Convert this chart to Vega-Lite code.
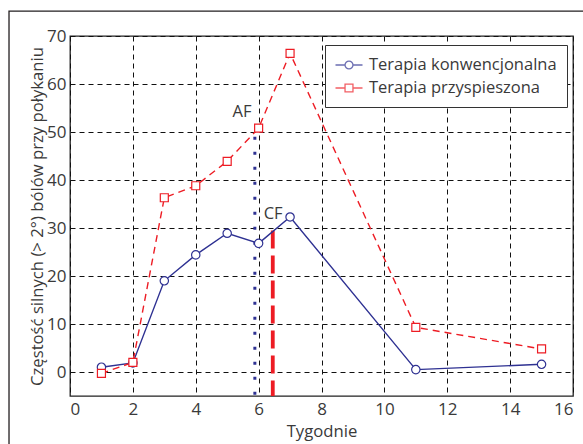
{
  "$schema": "https://vega.github.io/schema/vega-lite/v6.json",
  "autosize": "none",
  "width": 503,
  "height": 360,
  "padding": {"left": 70, "top": 36, "right": 10, "bottom": 48},
  "background": "white",
  "config": {
    "font": "Open Sans",
    "view": {"stroke": "#222222", "strokeWidth": 1.3},
    "axis": {
      "domain": false,
      "ticks": false,
      "grid": true,
      "gridColor": "#111111",
      "gridDash": [5, 4],
      "gridWidth": 1,
      "gridOpacity": 1,
      "labelFont": "Open Sans",
      "labelFontSize": 17,
      "labelColor": "#3a3a3a",
      "titleFont": "Open Sans",
      "titleFontSize": 16.7,
      "titleFontWeight": "normal",
      "titleColor": "#3a3a3a"
    }
  },
  "datasets": {
    "pts": [
      {"week": 1, "value": 1.0, "series": "Terapia konwencjonalna"},
      {"week": 2, "value": 1.9, "series": "Terapia konwencjonalna"},
      {"week": 3, "value": 19.0, "series": "Terapia konwencjonalna"},
      {"week": 4, "value": 24.4, "series": "Terapia konwencjonalna"},
      {"week": 5, "value": 28.9, "series": "Terapia konwencjonalna"},
      {"week": 6, "value": 26.8, "series": "Terapia konwencjonalna"},
      {"week": 7, "value": 32.3, "series": "Terapia konwencjonalna"},
      {"week": 11, "value": 0.5, "series": "Terapia konwencjonalna"},
      {"week": 15, "value": 1.6, "series": "Terapia konwencjonalna"},
      {"week": 1, "value": -0.3, "series": "Terapia przyspieszona"},
      {"week": 2, "value": 2.0, "series": "Terapia przyspieszona"},
      {"week": 3, "value": 36.3, "series": "Terapia przyspieszona"},
      {"week": 4, "value": 38.8, "series": "Terapia przyspieszona"},
      {"week": 5, "value": 43.9, "series": "Terapia przyspieszona"},
      {"week": 6, "value": 50.8, "series": "Terapia przyspieszona"},
      {"week": 7, "value": 66.4, "series": "Terapia przyspieszona"},
      {"week": 11, "value": 9.3, "series": "Terapia przyspieszona"},
      {"week": 15, "value": 4.8, "series": "Terapia przyspieszona"}
    ],
    "marks": [
      {"name": "AF", "week": 5.88, "top": 49, "bottom": -5, "lx": 5.47, "ly": 54.1},
      {"name": "CF", "week": 6.45, "top": 29.5, "bottom": -5, "lx": 6.46, "ly": 33.0}
    ]
  },
  "layer": [
    {
      "data": {"values": [{}]},
      "mark": {"type": "rect", "fill": null, "fillOpacity": 0, "stroke": "#231f20", "strokeWidth": 1.3, "clip": false},
      "encoding": {
        "x": {"datum": -1.94, "type": "quantitative", "scale": {"domain": [0, 16], "nice": false, "zero": false},
              "axis": {"values": [0,1,2,3,4,5,6,7,8,9,10,11,12,13,14,15,16], "labelExpr": "datum.value % 2 == 0 ? datum.label : ''", "title": "Tygodnie", "labelPadding": 5, "titlePadding": 6}},
        "x2": {"datum": 16.8},
        "y": {"datum": 75.2, "type": "quantitative", "scale": {"domain": [-5, 70], "nice": false, "zero": false},
              "axis": {"values": [0,10,20,30,40,50,60,70], "title": "Częstość silnych (> 2°) bólów przy połykaniu", "labelPadding": 4, "titlePadding": 0}},
        "y2": {"datum": -17}
      }
    },
    {
      "data": {"name": "marks"},
      "transform": [{"filter": "datum.name == 'AF'"}],
      "mark": {"type": "rule", "color": "#2e3192", "strokeWidth": 3, "strokeDash": [3, 12], "strokeCap": "butt"},
      "encoding": {
        "x": {"field": "week", "type": "quantitative"},
        "y": {"field": "top", "type": "quantitative"},
        "y2": {"field": "bottom"}
      }
    },
    {
      "data": {"name": "marks"},
      "transform": [{"filter": "datum.name == 'CF'"}],
      "mark": {"type": "rule", "color": "#ed1c24", "strokeWidth": 3.8, "strokeDash": [18, 7], "strokeCap": "butt"},
      "encoding": {
        "x": {"field": "week", "type": "quantitative"},
        "y": {"field": "top", "type": "quantitative"},
        "y2": {"field": "bottom"}
      }
    },
    {
      "data": {"name": "marks"},
      "mark": {"type": "text", "fontSize": 16.5, "color": "#3a3a3a", "align": "center", "baseline": "middle", "font": "Open Sans"},
      "encoding": {
        "x": {"field": "lx", "type": "quantitative"},
        "y": {"field": "ly", "type": "quantitative"},
        "text": {"field": "name"}
      }
    },
    {
      "data": {"name": "pts"},
      "transform": [{"filter": "datum.series == 'Terapia konwencjonalna'"}],
      "mark": {"type": "line", "color": "#2e3192", "strokeWidth": 1.4},
      "encoding": {
        "x": {"field": "week", "type": "quantitative"},
        "y": {"field": "value", "type": "quantitative"}
      }
    },
    {
      "data": {"name": "pts"},
      "transform": [{"filter": "datum.series == 'Terapia przyspieszona'"}],
      "mark": {"type": "line", "color": "#ed1c24", "strokeWidth": 1.4, "strokeDash": [7, 5]},
      "encoding": {
        "x": {"field": "week", "type": "quantitative"},
        "y": {"field": "value", "type": "quantitative"}
      }
    },
    {
      "data": {"name": "pts"},
      "transform": [{"filter": "datum.series == 'Terapia konwencjonalna'"}],
      "mark": {"type": "point", "shape": "circle", "filled": true, "fill": "white", "stroke": "#2e3192", "strokeWidth": 1.2, "size": 70, "opacity": 1},
      "encoding": {
        "x": {"field": "week", "type": "quantitative"},
        "y": {"field": "value", "type": "quantitative"}
      }
    },
    {
      "data": {"name": "pts"},
      "transform": [{"filter": "datum.series == 'Terapia przyspieszona'"}],
      "mark": {"type": "point", "shape": "square", "filled": true, "fill": "white", "stroke": "#ed1c24", "strokeWidth": 1.2, "size": 64, "opacity": 1},
      "encoding": {
        "x": {"field": "week", "type": "quantitative"},
        "y": {"field": "value", "type": "quantitative"}
      }
    },
    {
      "data": {"name": "pts"},
      "transform": [{"filter": "false"}],
      "mark": {"type": "point", "filled": false, "strokeWidth": 1.3},
      "encoding": {
        "x": {"field": "week", "type": "quantitative"},
        "y": {"field": "value", "type": "quantitative"},
        "color": {
          "field": "series", "type": "nominal",
          "scale": {"domain": ["Terapia konwencjonalna", "Terapia przyspieszona"], "range": ["#2e3192", "#ed1c24"]},
          "legend": {
            "title": null, "orient": "none", "legendX": 255, "legendY": 9,
            "strokeColor": "#333333", "fillColor": "white", "padding": 10,
            "symbolSize": 324, "symbolStrokeWidth": 1.3, "symbolOffset": 4,
            "labelFont": "Open Sans", "labelFontSize": 16.5, "labelColor": "#3a3a3a", "labelOffset": 10, "labelLimit": 400,
            "rowPadding": 4
          }
        },
        "shape": {
          "field": "series", "type": "nominal",
          "scale": {"domain": ["Terapia konwencjonalna", "Terapia przyspieszona"],
                    "range": ["M-1.5,0L-0.44,0M0.44,0L1.5,0M0.44,0A0.44,0.44,0,1,1,-0.44,0A0.44,0.44,0,1,1,0.44,0",
                              "M-1.5,0L-0.44,0M0.44,0L1.5,0M-0.44,-0.44L0.44,-0.44L0.44,0.44L-0.44,0.44Z"]}
        }
      }
    }
  ]
}
